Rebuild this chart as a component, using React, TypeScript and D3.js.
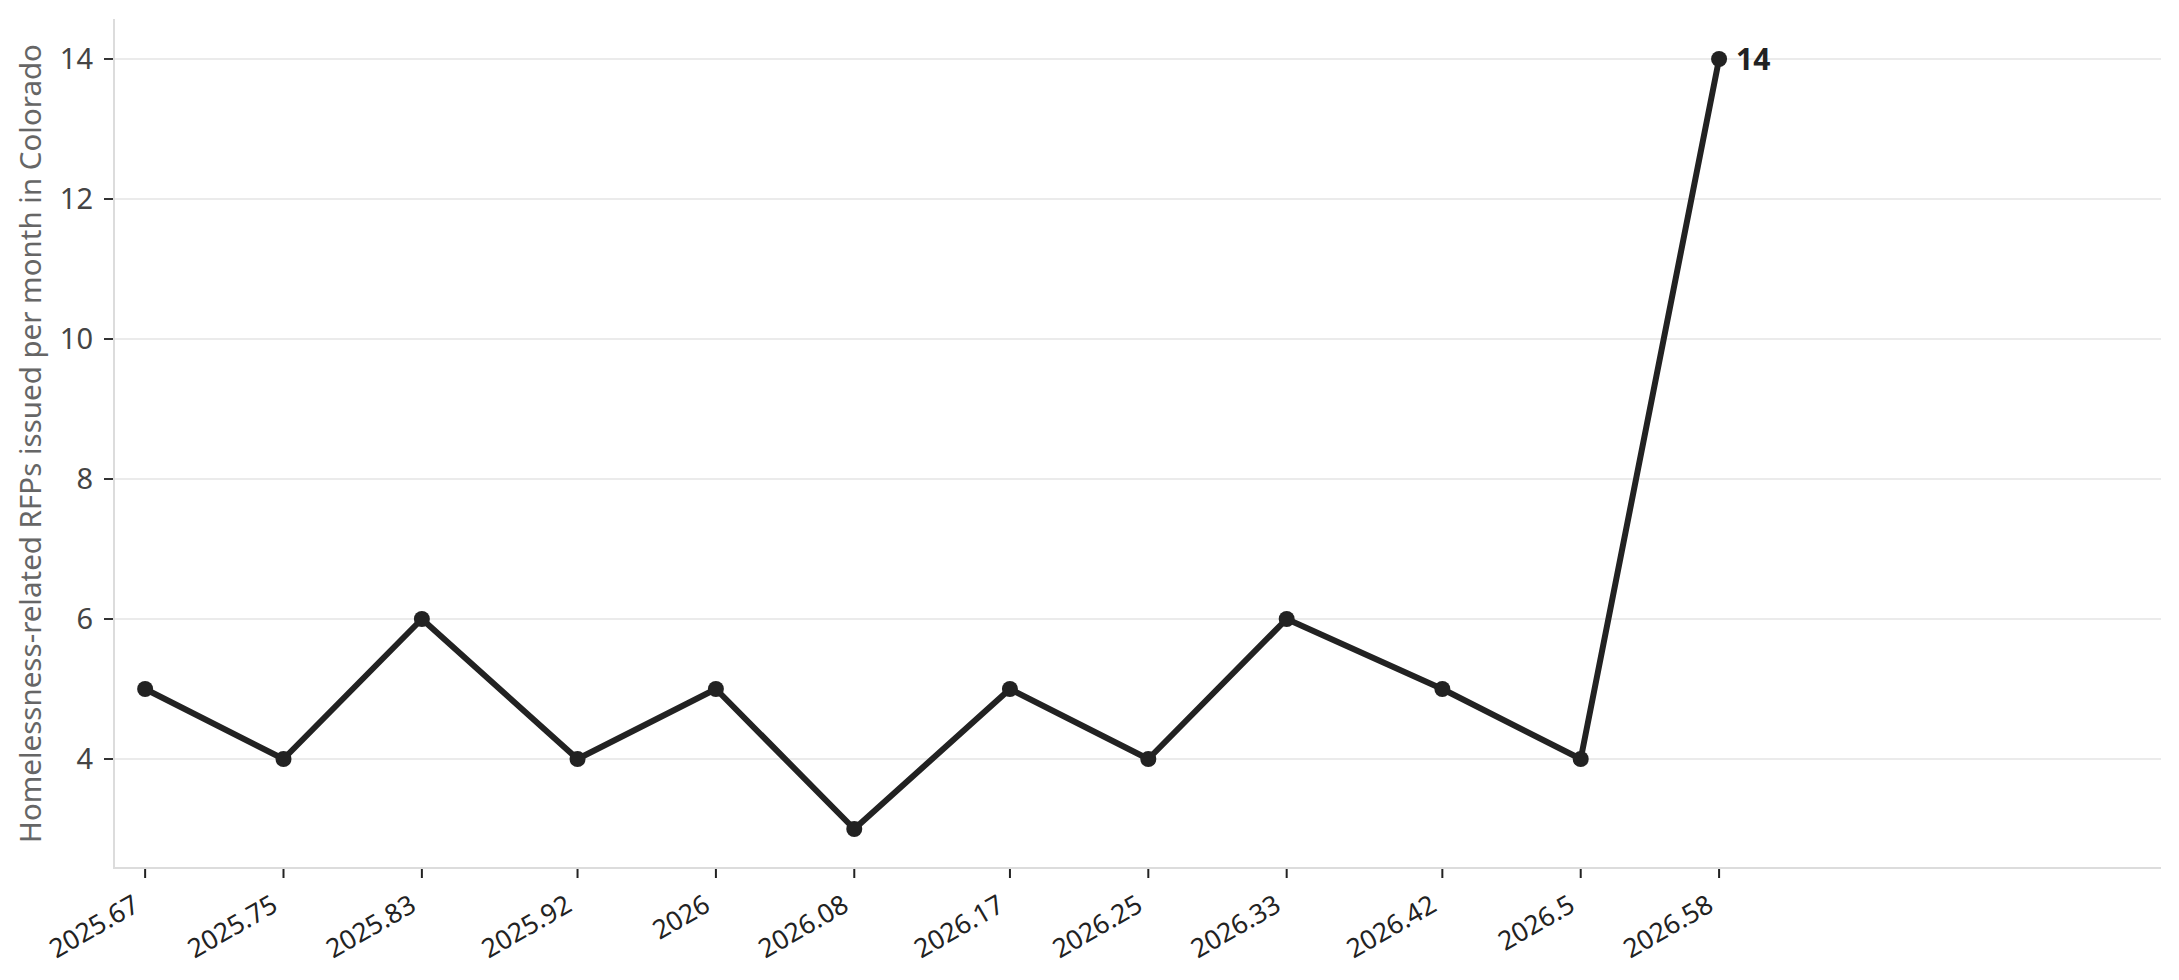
import React from "react";
import * as d3 from "d3";

const xValues: number[] = [2025.67, 2025.75, 2025.83, 2025.92, 2026, 2026.08, 2026.17, 2026.25, 2026.33, 2026.42, 2026.5, 2026.58];
const yValues: number[] = [5, 4, 6, 4, 5, 3, 5, 4, 6, 5, 4, 14];
const xTickLabels: string[] = ["2025.67", "2025.75", "2025.83", "2025.92", "2026", "2026.08", "2026.17", "2026.25", "2026.33", "2026.42", "2026.5", "2026.58"];
const yTicks: number[] = [4, 6, 8, 10, 12, 14];
const yTitle = "Homelessness-related RFPs issued per month in Colorado";
const lastLabel = "14";

const W = 2179;
const H = 980;
const FONT = "'Noto Sans', 'Open Sans', sans-serif";

export default function App() {
  const left = 114;
  const right = 2161;
  const top = 19;
  const bottom = 868;
  const x = d3.scaleLinear().domain([2025.652, 2026.8355]).range([left, right]);
  const y = d3.scaleLinear().domain([2.443, 14.571]).range([bottom, top]);
  const pts = xValues.map((v, i) => [v, yValues[i]] as [number, number]);
  const line = d3.line<[number, number]>().x((d) => x(d[0])).y((d) => y(d[1]));
  const last = pts[pts.length - 1];

  return (
    <div style={{ position: "fixed", left: 0, top: 0, width: W, height: H, background: "#fff" }}>
      <svg width={W} height={H} style={{ display: "block" }}>
        <rect width={W} height={H} fill="#fff" />
        {yTicks.map((t) => (
          <line key={"g" + t} x1={left} x2={right} y1={y(t)} y2={y(t)} stroke="#ebebeb" strokeWidth={2} />
        ))}
        <line x1={left} x2={left} y1={top} y2={bottom + 1} stroke="#dcdcdc" strokeWidth={2} />
        <line x1={left - 1} x2={right} y1={bottom} y2={bottom} stroke="#dcdcdc" strokeWidth={2} />
        {yTicks.map((t) => (
          <g key={"yt" + t}>
            <line x1={left - 10} x2={left - 1} y1={y(t)} y2={y(t)} stroke="#333" strokeWidth={2} />
            <text x={93} y={y(t)} dy="0.36em" textAnchor="end" fontFamily={FONT} fontSize={29} fill="#444">
              {t}
            </text>
          </g>
        ))}
        {xValues.map((v, i) => (
          <g key={"xt" + i}>
            <line x1={x(v)} x2={x(v)} y1={bottom + 1} y2={bottom + 10} stroke="#222" strokeWidth={2} />
            <text
              transform={`translate(${x(v) - 4},${910}) rotate(-30)`}
              textAnchor="end"
              fontFamily={FONT}
              fontSize={26.5}
              fill="#222"
            >
              {xTickLabels[i]}
            </text>
          </g>
        ))}
        <text
          transform={`translate(${41},${(top + bottom) / 2}) rotate(-90)`}
          textAnchor="middle"
          fontFamily={FONT}
          fontSize={29.5}
          fill="#666"
        >
          {yTitle}
        </text>
        <path d={line(pts) || ""} fill="none" stroke="#222" strokeWidth={6} strokeLinejoin="round" />
        {pts.map((p, i) => (
          <circle key={"c" + i} cx={x(p[0])} cy={y(p[1])} r={8} fill="#222" />
        ))}
        <text x={x(last[0]) + 17} y={y(last[1])} dy="0.36em" fontFamily={FONT} fontWeight="bold" fontSize={30} fill="#222">
          {lastLabel}
        </text>
      </svg>
    </div>
  );
}
